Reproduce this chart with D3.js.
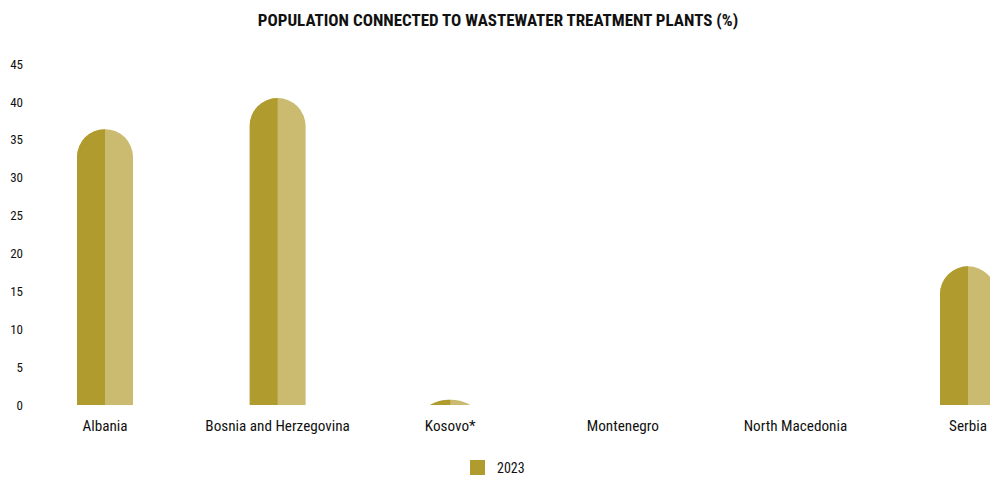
<!DOCTYPE html>
<html><head><meta charset="utf-8">
<script src="https://cdn.jsdelivr.net/npm/d3@7/dist/d3.min.js"></script>
<style>
body{margin:0;background:#fff;}
text{font-family:"Liberation Sans Narrow","Roboto Condensed","DejaVu Sans Condensed",Roboto,sans-serif;fill:#111;}
</style></head>
<body>
<svg id="c" width="990" height="477"></svg>
<script>
const categories = ["Albania","Bosnia and Herzegovina","Kosovo*","Montenegro","North Macedonia","Serbia"];
const values2023 = [36.4, 40.5, 0.7, null, null, 18.3];
const yTicks = [0,5,10,15,20,25,30,35,40,45];
const seriesName = "2023";
const title = "POPULATION CONNECTED TO WASTEWATER TREATMENT PLANTS (%)";

const dark = "#b09b2f", light = "#cabb70";
const svg = d3.select("#c");
const x = d3.scaleBand().domain(categories).range([18.7, 1054.3]).padding(0);
const y = d3.scaleLinear().domain([0,45]).range([405,64]);
const bw = 56, r = bw/2;

svg.append("text").attr("x",498).attr("y",26).attr("text-anchor","middle")
  .attr("font-size",17).attr("font-weight","bold").text(title);

const yAxis = d3.axisLeft(y).tickValues(yTicks).tickSize(0).tickPadding(0);
const ga = svg.append("g").attr("transform","translate(23,0)").call(yAxis);
ga.select(".domain").remove();
ga.selectAll("text").attr("font-size",13).attr("fill","#111").style("font-family",null);

const xAxis = d3.axisBottom(x).tickSize(0).tickPadding(0);
const gx = svg.append("g").attr("transform","translate(0,430.5)").call(xAxis);
gx.select(".domain").remove();
gx.selectAll("text").attr("font-size",15.2).attr("fill","#111").attr("dy",0).style("font-family",null);

const defs = svg.append("defs");
defs.append("clipPath").attr("id","plot").append("rect")
  .attr("x",0).attr("y",0).attr("width",990).attr("height",y(0));

const data = categories.map((c,i)=>({c, v: values2023[i], i})).filter(d=>d.v!=null);
data.forEach(d=>{
  defs.append("clipPath").attr("id","left"+d.i).append("rect")
    .attr("x", x(d.c)+x.bandwidth()/2 - bw/2).attr("y",0).attr("width",bw/2).attr("height",y(0));
});
const bars = svg.append("g").attr("clip-path","url(#plot)").selectAll("g").data(data).join("g");
bars.append("rect")
  .attr("x", d=>x(d.c)+x.bandwidth()/2 - bw/2).attr("width",bw)
  .attr("y", d=>y(d.v)).attr("height", d=>y(0)-y(d.v)+r+2)
  .attr("rx",r).attr("ry",r).attr("fill",light);
bars.append("rect")
  .attr("clip-path", d=>"url(#left"+d.i+")")
  .attr("x", d=>x(d.c)+x.bandwidth()/2 - bw/2).attr("width",bw)
  .attr("y", d=>y(d.v)).attr("height", d=>y(0)-y(d.v)+r+2)
  .attr("rx",r).attr("ry",r).attr("fill",dark);

const lg = svg.append("g").attr("transform","translate(470,460)");
lg.append("rect").attr("width",15).attr("height",15).attr("fill",dark);
lg.append("text").attr("x",27).attr("y",13).attr("font-size",14).text(seriesName);
</script>
</body></html>
